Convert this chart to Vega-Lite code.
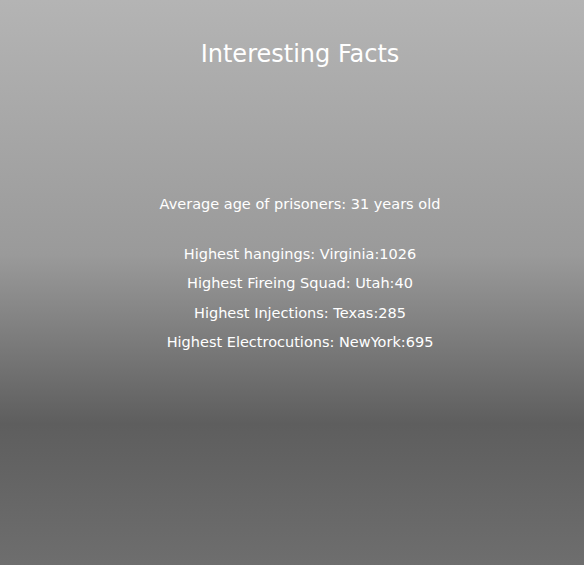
{
"$schema":"https://vega.github.io/schema/vega-lite/v6.json",
"width":584,"height":565,
"autosize":{"type":"fit","contains":"padding"},
"padding":0,
"background":"#8c8c8c",
"config":{"view":{"stroke":null}},
"datasets":{
"bg":[{"x0":0,"x1":584,"y0":0,"y1":565}],
"texts":[
{"label":"Interesting Facts","x":300,"y":55,"kind":"title"},
{"label":"Average age of prisoners: 31 years old","x":300,"y":205,"kind":"body"},
{"label":"Highest hangings: Virginia:1026","x":300,"y":255,"kind":"body"},
{"label":"Highest Fireing Squad: Utah:40","x":300,"y":284,"kind":"body"},
{"label":"Highest Injections: Texas:285","x":300,"y":314,"kind":"body"},
{"label":"Highest Electrocutions: NewYork:695","x":300,"y":343,"kind":"body"}
]},
"layer":[
{"data":{"name":"bg"},"mark":{"type":"rect","color":{"gradient":"linear","x1":0,"y1":0,"x2":0,"y2":1,"stops":[{"offset":0,"color":"#b4b4b4"},{"offset":0.45,"color":"#9a9a9a"},{"offset":0.75,"color":"#5e5e5e"},{"offset":1,"color":"#6e6e6e"}]}},
"encoding":{"x":{"field":"x0","type":"quantitative","scale":{"domain":[0,584]},"axis":null},"x2":{"field":"x1"},
"y":{"field":"y0","type":"quantitative","scale":{"domain":[565,0]},"axis":null},"y2":{"field":"y1"}}},
{"data":{"name":"texts"},"transform":[{"filter":"datum.kind=='title'"}],
"mark":{"type":"text","fontSize":24,"color":"white","font":"DejaVu Sans","align":"center","baseline":"middle"},
"encoding":{"x":{"field":"x","type":"quantitative","scale":{"domain":[0,584]},"axis":null},"y":{"field":"y","type":"quantitative","scale":{"domain":[565,0]},"axis":null},"text":{"field":"label"}}},
{"data":{"name":"texts"},"transform":[{"filter":"datum.kind=='body'"}],
"mark":{"type":"text","fontSize":14.5,"color":"white","font":"DejaVu Sans","align":"center","baseline":"middle"},
"encoding":{"x":{"field":"x","type":"quantitative","scale":{"domain":[0,584]},"axis":null},"y":{"field":"y","type":"quantitative","scale":{"domain":[565,0]},"axis":null},"text":{"field":"label"}}}
]}
